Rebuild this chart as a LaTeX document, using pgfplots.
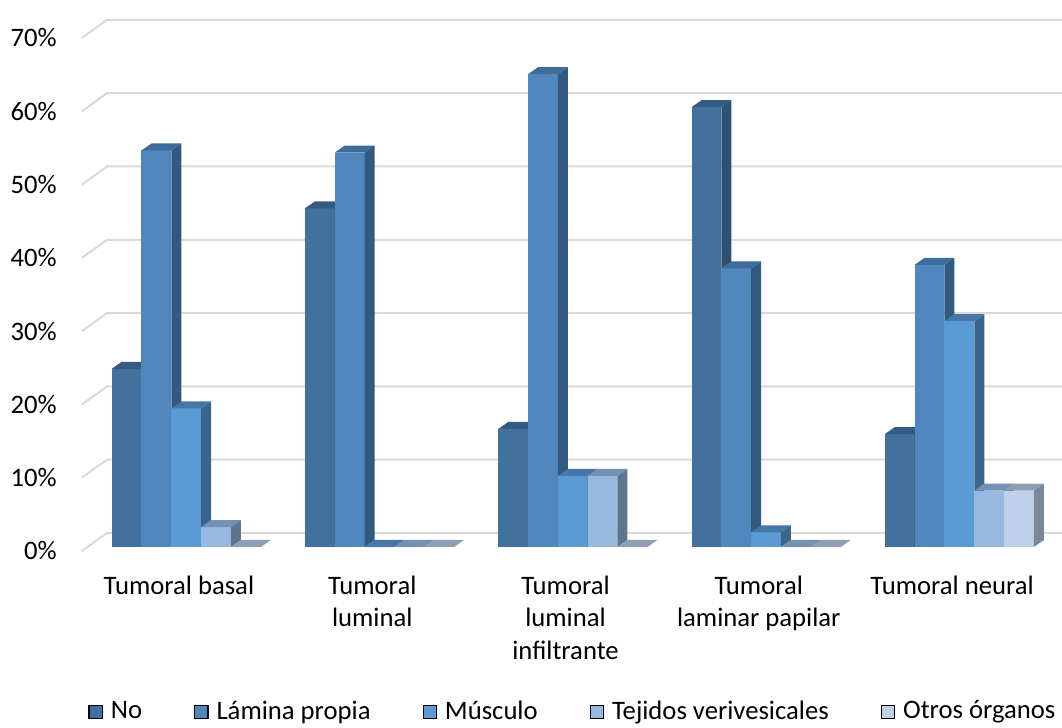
\documentclass[border=0pt]{standalone}
\usepackage{pgfplots}
\usepackage{pgfplotstable}
\pgfplotsset{compat=1.18}
\usepackage{fontspec}
\setmainfont{Carlito}

% face colours: F = front, S = side, T = top
\definecolor{F0}{HTML}{41719C}\definecolor{S0}{HTML}{2E5073}\definecolor{T0}{HTML}{345B82}
\definecolor{F1}{HTML}{4F87BE}\definecolor{S1}{HTML}{325A7E}\definecolor{T1}{HTML}{3E6D9B}
\definecolor{F2}{HTML}{5B9BD5}\definecolor{S2}{HTML}{3A668C}\definecolor{T2}{HTML}{4677A7}
\definecolor{F3}{HTML}{98B8DF}\definecolor{S3}{HTML}{5E7592}\definecolor{T3}{HTML}{7391B4}
\definecolor{F4}{HTML}{BED0EA}\definecolor{S4}{HTML}{7A8799}\definecolor{T4}{HTML}{8E9EB3}
\definecolor{gridc}{HTML}{D9D9D9}

% percentage of cases per tumour type (rows) and depth of invasion (columns)
% c0 = No, c1 = Lamina propia, c2 = Musculo, c3 = Tejidos verivesicales, c4 = Otros organos
\pgfplotstableread{
cat c0   c1   c2   c3  c4
0   24.3 54.1 18.9 2.7 0
1   46.2 53.8 0    0   0
2   16.1 64.5 9.7  9.7 0
3   60.0 38.0 2.0  0   0
4   15.4 38.5 30.8 7.7 7.7
}\datatable

\def\bw{0.1542}   % bar width (category units)
\def\boff{0.124}  % offset of the first bar inside a category
\def\ddx{0.0517}  % depth of a bar, horizontal part
\def\ddy{0.955}   % depth of a bar, vertical part

% one box-shaped column: front face, right side, top
\newcommand\drawbar[2]{%
  \pgfplotstablegetelem{#1}{c#2}\of\datatable
  \pgfmathsetmacro\hv{\pgfplotsretval}%
  \pgfmathsetmacro\xa{#1+\boff+#2*\bw}%
  \pgfmathsetmacro\xb{\xa+\bw}%
  \pgfmathsetmacro\xc{\xb+\ddx}%
  \pgfmathsetmacro\xd{\xa+\ddx}%
  \pgfmathsetmacro\hb{\hv+\ddy}%
  \edef\temp{%
    \noexpand\addplot[forget plot, mark=none, fill=F#2, draw=none]
      coordinates {(\xa,0) (\xb,0) (\xb,\hv) (\xa,\hv)};
    \noexpand\addplot[forget plot, mark=none, fill=S#2, draw=none]
      coordinates {(\xb,0) (\xc,\ddy) (\xc,\hb) (\xb,\hv)};
    \noexpand\addplot[forget plot, mark=none, fill=T#2, draw=none]
      coordinates {(\xa,\hv) (\xd,\hb) (\xc,\hb) (\xb,\hv)};
  }\temp
}

\begin{document}
\begin{tikzpicture}
\begin{axis}[
  x=72.49bp, y=2.749bp,
  xmin=-0.0295, xmax=5.0404, ymin=-0.546, ymax=74.62,
  clip=false,
  axis line style={draw=none},
  major tick length=0pt,
  font=\fontsize{10bp}{12.2bp}\selectfont,
  xtick={0.472,1.472,2.472,3.472,4.472},
  xticklabels={Tumoral basal,{Tumoral\\luminal},{Tumoral\\luminal\\infiltrante},{Tumoral\\laminar papilar},Tumoral neural},
  xticklabel style={align=center, anchor=north, yshift=-5.7bp,
    font=\fontsize{10bp}{12.2bp}\selectfont},
  ytick={0,10,20,30,40,50,60,70},
  yticklabels={0\%,10\%,20\%,30\%,40\%,50\%,60\%,70\%},
  yticklabel style={anchor=east, xshift=-6bp, yshift=-1.5bp,
    font=\fontsize{10bp}{12.2bp}\selectfont},
  legend image code/.code={\fill[#1] (0bp,-2.5bp) rectangle (5bp,2.5bp);},
  legend columns=5,
  legend style={at={(0.502,-0.292)}, anchor=center, draw=none, fill=none,
    font=\fontsize{10bp}{12.2bp}\selectfont,
    nodes={inner sep=1.5bp, anchor=west},
    /tikz/every odd column/.append style={column sep=1.5bp},
    /tikz/every even column/.append style={column sep=18bp}},
]
% back-wall and side-wall gridlines
\pgfplotsforeachungrouped \g in {0,10,...,70}{%
  \pgfmathsetmacro\gf{\g-0.546}%
  \pgfmathsetmacro\gb{\g+1.91}%
  \edef\temp{\noexpand\addplot[forget plot, mark=none, draw=gridc, line width=0.75bp]
    coordinates {(-0.0295,\gf) (0.0998,\gb) (5.0404,\gb)};}\temp
}
% columns, left to right
\pgfplotsforeachungrouped \r in {0,...,4}{%
  \pgfplotsforeachungrouped \s in {0,...,4}{%
    \drawbar{\r}{\s}%
  }%
}
\addlegendimage{fill=F0}\addlegendentry{No}
\addlegendimage{fill=F1}\addlegendentry{Lámina propia}
\addlegendimage{fill=F2}\addlegendentry{Músculo}
\addlegendimage{fill=F3}\addlegendentry{Tejidos verivesicales}
\addlegendimage{fill=F4}\addlegendentry{Otros órganos}
\coordinate (bbtl) at (axis cs:-0.4537,74.62);
\coordinate (bbbr) at (axis cs:5.0404,-24.56);
\end{axis}
\pgfresetboundingbox
\path[use as bounding box] (bbtl) rectangle (bbbr);
\end{tikzpicture}
\end{document}
